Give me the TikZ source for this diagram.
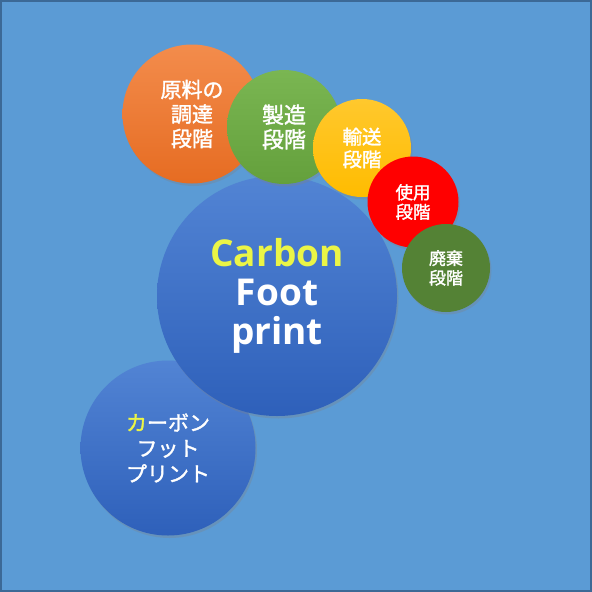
\documentclass[tikz,border=0pt]{standalone}
\usepackage{fontspec}
\setmainfont{Open Sans}
\newfontfamily\jpfont{Noto Sans CJK JP}[FakeBold=1.6]
\usetikzlibrary{shadows}

\definecolor{bgblue}{RGB}{91,155,213}
\definecolor{bgframe}{RGB}{60,105,150}
\definecolor{cfptop}{RGB}{82,132,212}
\definecolor{cfpbot}{RGB}{46,96,186}
\definecolor{hilite}{RGB}{235,245,70}

\begin{document}
\begin{tikzpicture}[x=1pt,y=-1pt,
  bubble/.style={circle, inner sep=0pt, align=center, text=white,
    drop shadow={opacity=0.3, shadow xshift=1.5pt, shadow yshift=-2.5pt}},
  jp/.style 2 args={font=\jpfont\fontsize{#1}{#2}\selectfont}]
  % background with frame
  \draw[fill=bgblue, draw=bgframe, line width=2pt] (1,1) rectangle (591,591);
  \useasboundingbox (0,0) rectangle (592,592);

  \node[bubble, minimum size=175, top color=cfptop, bottom color=cfpbot, jp={21}{25.5}]
    (kana) at (168,448) {\textcolor{hilite}{カ}ーボン\\フット\\プリント};
  \node[bubble, minimum size=240, top color=cfptop, bottom color=cfpbot,
    font=\bfseries\fontsize{37}{39}\selectfont]
    (cfp) at (277,296) {\textcolor{hilite}{Carbon}\\Foot\\print};

  % stages, each one over the one before
  \node[bubble, minimum size=139, top color={rgb,255:red,243;green,140;blue,76},
    bottom color={rgb,255:red,230;green,108;blue,34}, jp={21}{24.5}]
    (raw) at (192,114) {原料の\\調達\\段階};
  \node[bubble, minimum size=114, top color={rgb,255:red,122;green,182;blue,82},
    bottom color={rgb,255:red,100;green,160;blue,60}, jp={22}{24.5}]
    (make) at (284,127) {製造\\段階};
  \node[bubble, minimum size=98, top color={rgb,255:red,255;green,200;blue,45},
    bottom color={rgb,255:red,255;green,188;blue,0}, jp={19.5}{22.6}]
    (ship) at (362,148) {輸送\\段階};
  \node[bubble, minimum size=91, fill=red, jp={17.5}{19.5}]
    (use) at (413,202) {使用\\段階};
  \node[bubble, minimum size=88, fill={rgb,255:red,84;green,130;blue,53}, jp={17}{19.6}]
    (waste) at (446,268) {廃棄\\段階};
\end{tikzpicture}
\end{document}
